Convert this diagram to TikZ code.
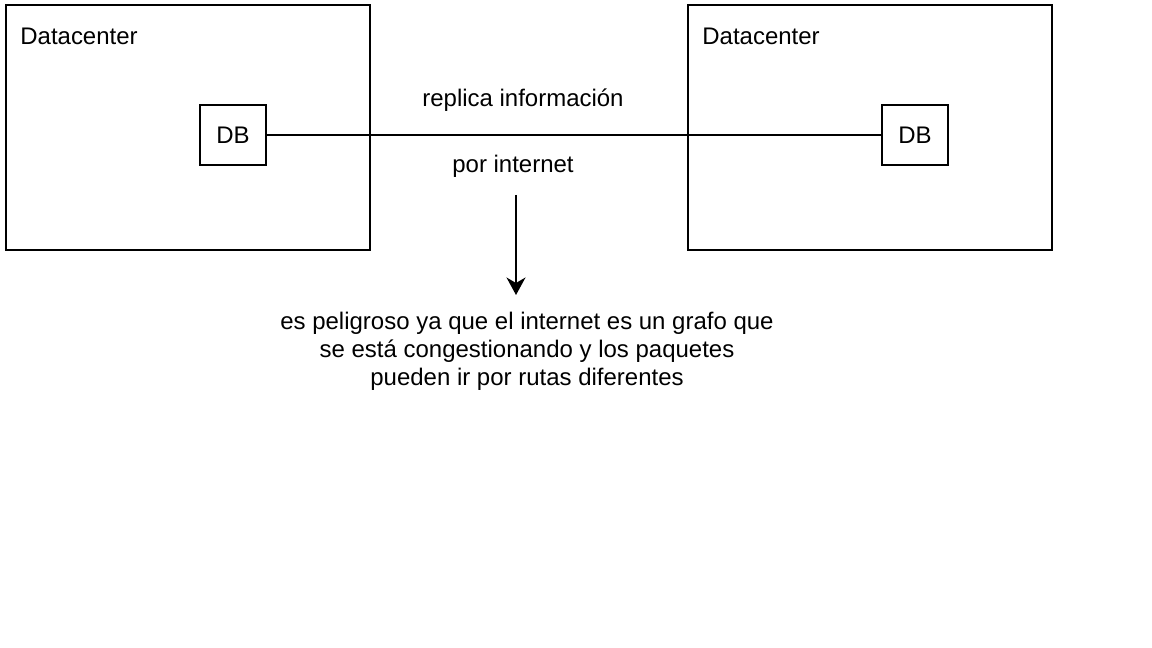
\documentclass[tikz,border=0pt]{standalone}
\usepackage{fontspec}
\setmainfont{Liberation Sans}
\usetikzlibrary{arrows.meta, positioning}

\tikzset{
	dcbox/.style={draw, line width=1.1pt, minimum width=72.8mm, minimum height=49mm, inner sep=0pt},
	dbbox/.style={draw, line width=1.1pt, minimum width=13.2mm, minimum height=12mm, inner sep=0pt},
	lbl/.style={font=\fontsize{13.65}{15.9}\selectfont, inner sep=0pt}
}

\begin{document}
\begin{tikzpicture}[x=0.02cm, y=-0.02cm]
	\useasboundingbox (0,0) rectangle (1152,648);
	\node[dcbox] (dc1) at (188,127.5) {};
	\node[dcbox] (dc2) at (870,127.5) {};
	\node[lbl, anchor=west] (dc1lbl) at (20,36) {Datacenter};
	\node[lbl, anchor=west] (dc2lbl) at (702,36) {Datacenter};
	\node[dbbox, lbl] (db1) at (233,135) {DB};
	\node[dbbox, lbl] (db2) at (915,135) {DB};
	\node[lbl] (rep) at (523,100) {replica información};
	\node[lbl] (inet) at (513,166) {por internet};
	\node[lbl, align=center] (note) at (527,351) {es peligroso ya que el internet es un grafo que\\se está congestionando y los paquetes\\pueden ir por rutas diferentes};
	\coordinate (arrtop) at (516,195);
	\coordinate (arrbot) at (516,295);
	\draw[line width=1.1pt] (db1) -- (db2);
	\draw[line width=1.1pt, -{Stealth[length=3.5mm, width=3.8mm, inset=1.1mm]}] (arrtop) -- (arrbot);
\end{tikzpicture}
\end{document}
